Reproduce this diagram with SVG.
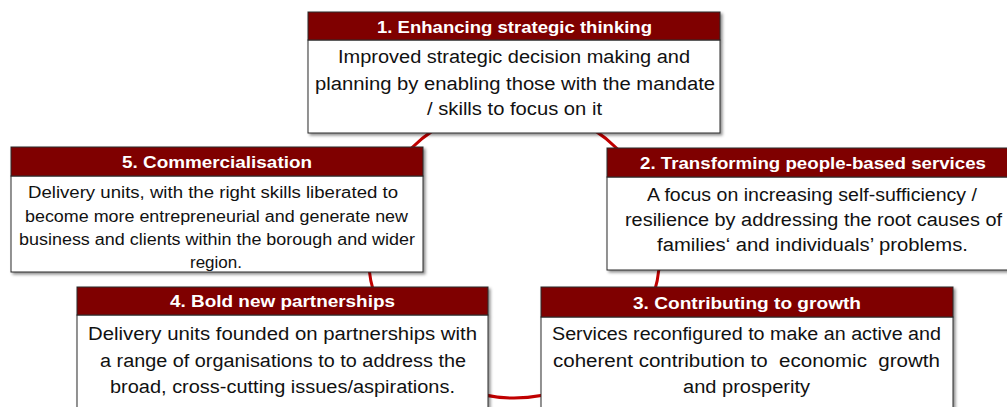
<svg xmlns="http://www.w3.org/2000/svg" width="1007" height="407" viewBox="0 0 1007 407">
<defs>
<filter id="sh" x="-5%" y="-5%" width="115%" height="120%">
<feDropShadow dx="2" dy="2" stdDeviation="1.5" flood-color="#000" flood-opacity="0.45"/>
</filter>
<style>
.hdr{fill:#7F0000;stroke:#2a2a2a;stroke-width:1}
.body{fill:#fff;stroke:#2a2a2a;stroke-width:1}
.ht{font-family:"Liberation Sans",Arial,sans-serif;font-weight:bold;font-size:17px;fill:#fff}
.bt{font-family:"Liberation Sans",Arial,sans-serif;font-size:18px;fill:#111}
.bs{font-family:"Liberation Sans",Arial,sans-serif;font-size:16px;fill:#111}
.ring{fill:none;stroke:#C00000;stroke-width:3}
</style>
</defs>
<rect width="1007" height="407" fill="#fff"/>
<g id="connectors">
<circle class="ring" cx="514" cy="252" r="146"/>
</g>
<g id="node1">
<g filter="url(#sh)">
<rect class="body" x="308" y="40" width="412" height="93"/>
<rect class="hdr" x="308" y="12" width="412" height="28"/>
</g>
<text class="ht" x="377" y="33" textLength="275" lengthAdjust="spacingAndGlyphs">1. Enhancing strategic thinking</text>
<text class="bt" x="338" y="63" textLength="352" lengthAdjust="spacingAndGlyphs">Improved strategic decision making and</text>
<text class="bt" x="315" y="90" textLength="400" lengthAdjust="spacingAndGlyphs">planning by enabling those with the mandate</text>
<text class="bt" x="427" y="115" textLength="175" lengthAdjust="spacingAndGlyphs">/ skills to focus on it</text>
</g>
<g id="node5">
<g filter="url(#sh)">
<rect class="body" x="11" y="176" width="412" height="96"/>
<rect class="hdr" x="11" y="147" width="412" height="29"/>
</g>
<text class="ht" x="122" y="168" textLength="190" lengthAdjust="spacingAndGlyphs">5. Commercialisation</text>
<text class="bs" x="28" y="198" textLength="370" lengthAdjust="spacingAndGlyphs">Delivery units, with the right skills liberated to</text>
<text class="bs" x="25" y="221.5" textLength="383" lengthAdjust="spacingAndGlyphs">become more entrepreneurial and generate new</text>
<text class="bs" x="19" y="245" textLength="396" lengthAdjust="spacingAndGlyphs">business and clients within the borough and wider</text>
<text class="bs" x="190" y="268" textLength="52" lengthAdjust="spacingAndGlyphs">region.</text>
</g>
<g id="node2">
<g filter="url(#sh)">
<rect class="body" x="607" y="177" width="412" height="93"/>
<rect class="hdr" x="607" y="148" width="412" height="29"/>
</g>
<text class="ht" x="640" y="169" textLength="346" lengthAdjust="spacingAndGlyphs">2. Transforming people-based services</text>
<text class="bt" x="647" y="201" textLength="330" lengthAdjust="spacingAndGlyphs">A focus on increasing self-sufficiency /</text>
<text class="bt" x="625" y="226" textLength="377" lengthAdjust="spacingAndGlyphs">resilience by addressing the root causes of</text>
<text class="bt" x="657" y="251" textLength="311" lengthAdjust="spacingAndGlyphs">families‘ and individuals’ problems.</text>
</g>
<g id="node4">
<g filter="url(#sh)">
<rect class="body" x="77" y="315" width="411" height="110"/>
<rect class="hdr" x="77" y="287" width="411" height="28"/>
</g>
<text class="ht" x="170" y="307" textLength="225" lengthAdjust="spacingAndGlyphs">4. Bold new partnerships</text>
<text class="bt" x="88" y="340" textLength="389" lengthAdjust="spacingAndGlyphs">Delivery units founded on partnerships with</text>
<text class="bt" x="100" y="367" textLength="366" lengthAdjust="spacingAndGlyphs">a range of organisations to to address the</text>
<text class="bt" x="110" y="393" textLength="345" lengthAdjust="spacingAndGlyphs">broad, cross-cutting issues/aspirations.</text>
</g>
<g id="node3">
<g filter="url(#sh)">
<rect class="body" x="541" y="317" width="412" height="110"/>
<rect class="hdr" x="541" y="287" width="412" height="30"/>
</g>
<text class="ht" x="633" y="309" textLength="228" lengthAdjust="spacingAndGlyphs">3. Contributing to growth</text>
<text class="bt" x="552" y="340" textLength="389" lengthAdjust="spacingAndGlyphs">Services reconfigured to make an active and</text>
<text class="bt" x="553" y="367" textLength="387" lengthAdjust="spacingAndGlyphs" xml:space="preserve">coherent contribution to  economic  growth</text>
<text class="bt" x="683" y="393" textLength="127" lengthAdjust="spacingAndGlyphs">and prosperity</text>
</g>
</svg>
